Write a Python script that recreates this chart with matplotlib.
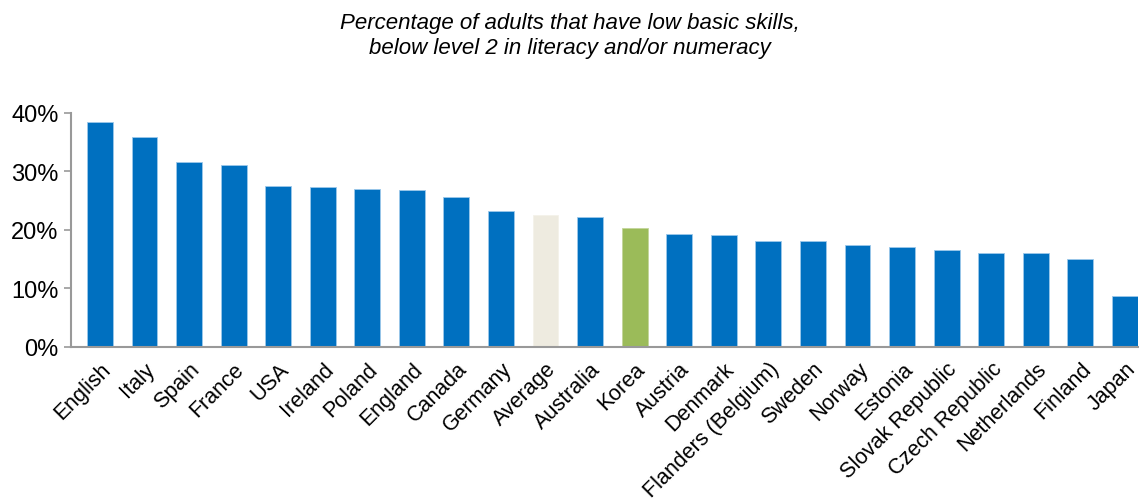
import matplotlib

matplotlib.use("Agg")

import matplotlib.pyplot as plt

countries = [
    "English", "Italy", "Spain", "France", "USA", "Ireland", "Poland", "England",
    "Canada", "Germany", "Average", "Australia", "Korea", "Austria", "Denmark",
    "Flanders (Belgium)", "Sweden", "Norway", "Estonia", "Slovak Republic",
    "Czech Republic", "Netherlands", "Finland", "Japan",
]
low_skills_pct = [
    38.5, 35.9, 31.6, 31.1, 27.5, 27.4, 27.0, 26.8, 25.6, 23.2, 22.6, 22.2,
    20.3, 19.3, 19.2, 18.1, 18.1, 17.4, 17.1, 16.5, 16.0, 16.0, 15.0, 8.7,
]
yticks = [0, 10, 20, 30, 40]

colors = []
edges = []
for name in countries:
    if name == "Average":
        colors.append("#EEEBE0")
        edges.append("#F4F2EA")
    elif name == "Korea":
        colors.append("#9BBB59")
        edges.append("#C3D69B")
    else:
        colors.append("#0070C0")
        edges.append("#9CC8EA")

plt.rcParams["font.family"] = ["Liberation Sans", "DejaVu Sans"]

fig = plt.figure(figsize=(11.39, 5.02), dpi=100)
ax = fig.add_axes([0.0623, 0.307, 0.937, 0.466])

x = list(range(len(countries)))
ax.bar(x, low_skills_pct, width=0.58, color=colors, edgecolor=edges, linewidth=0.6)

ax.set_xlim(-0.65, len(countries) - 0.7)
ax.set_ylim(0, 40)
ax.set_yticks(yticks)
ax.set_yticklabels([f"{v}%" for v in yticks], fontsize=17)
ax.set_xticks(x)
ax.set_xticklabels(countries, rotation=45, ha="right", va="top",
                   rotation_mode="anchor", fontsize=15.5)

for side in ("top", "right"):
    ax.spines[side].set_visible(False)
for side in ("left", "bottom"):
    ax.spines[side].set_color("#999999")
    ax.spines[side].set_linewidth(1.5)
ax.tick_params(axis="x", length=0, pad=8)
ax.tick_params(axis="y", length=5, color="#999999", width=1.2, pad=4)

fig.text(0.5, 0.975, "Percentage of adults that have low basic skills,\n"
         "below level 2 in literacy and/or numeracy",
         ha="center", va="top", fontsize=16, style="italic", linespacing=1.3)

fig.savefig("out.png", dpi=100)
